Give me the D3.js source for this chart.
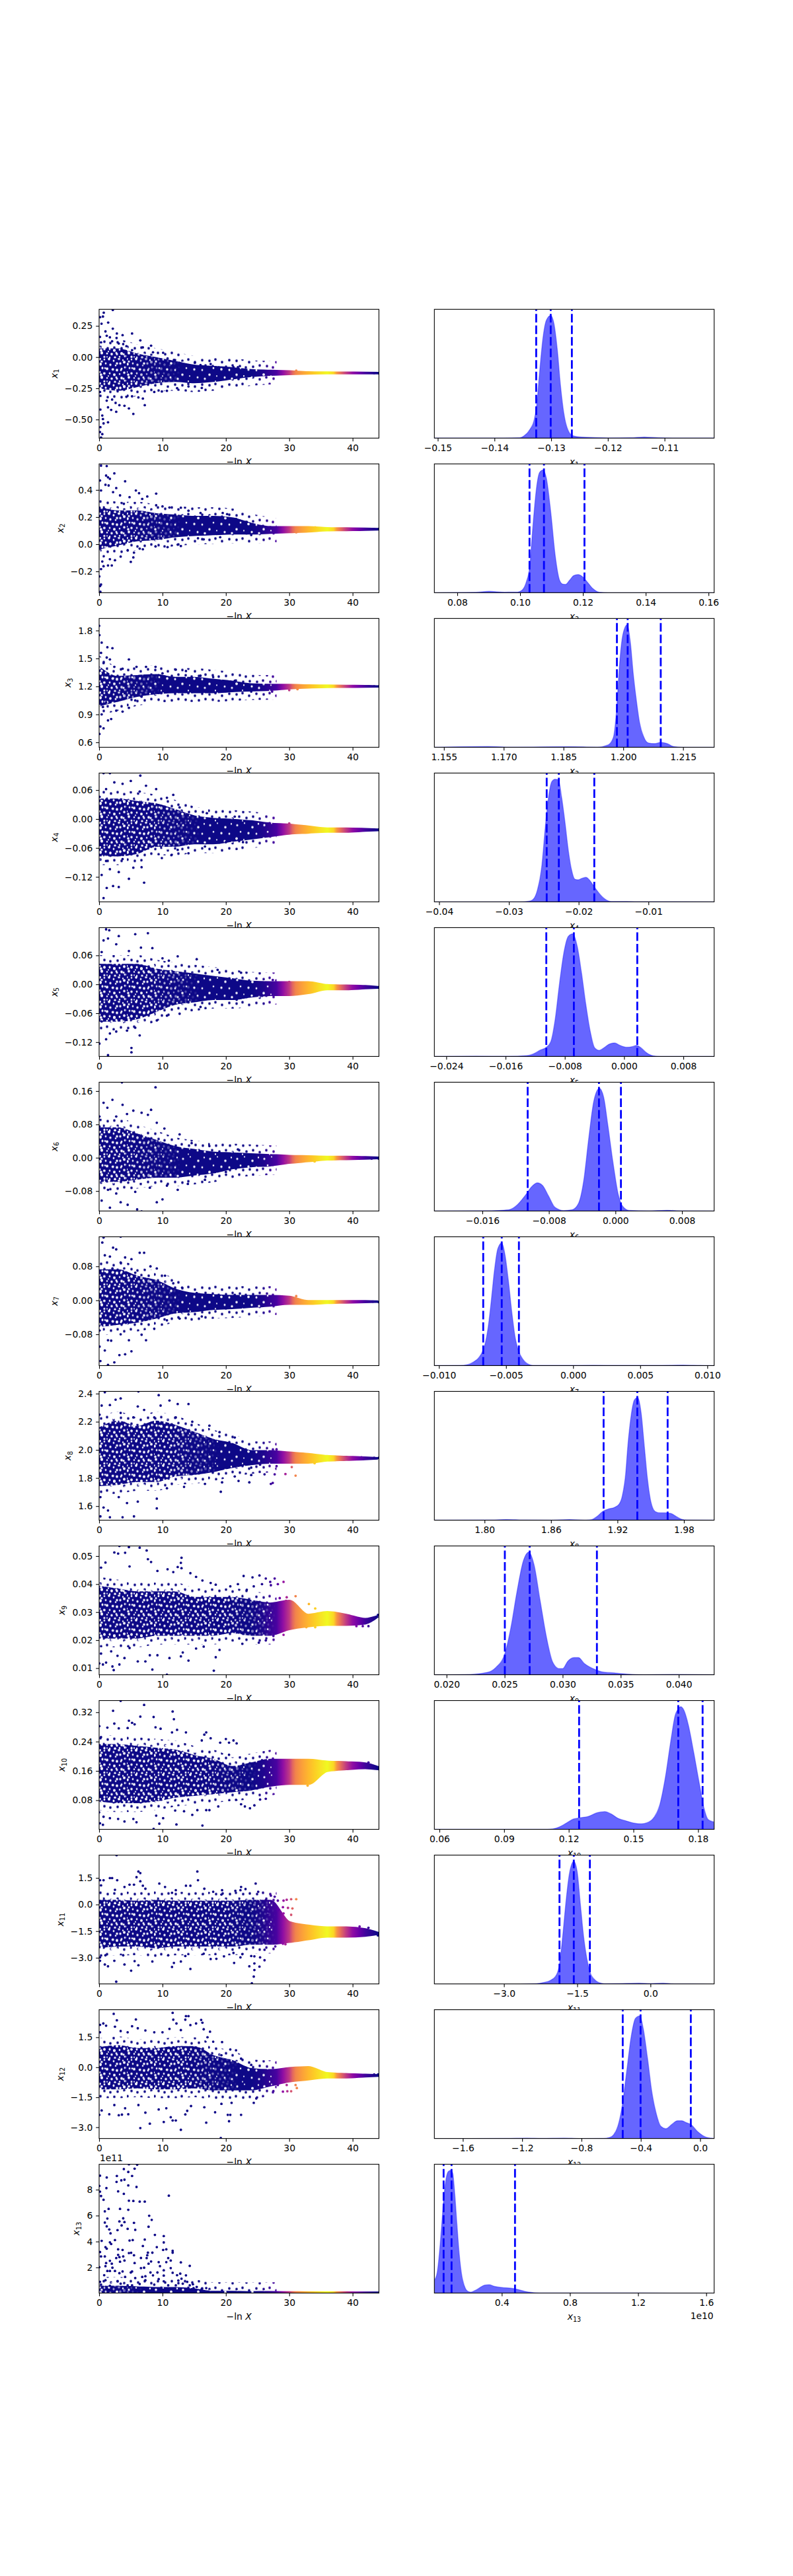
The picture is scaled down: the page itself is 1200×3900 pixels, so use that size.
<!DOCTYPE html>
<html>
<head>
<meta charset="utf-8">
<script src="https://cdn.jsdelivr.net/npm/d3@7"></script>
<style>
html, body { margin: 0; padding: 0; background: #fff; }
text { font-family: "DejaVu Sans", sans-serif; fill: #000; }
</style>
</head>
<body>
<svg id="chart" width="1200" height="3900"></svg>
<script>
// -ln X knots used by the dense core band and the importance weight colours
const coreX = [0, 3, 6, 9, 12, 15, 18, 21, 24, 27, 30, 33, 36, 39, 42, 44];
const weightX = [0, 24, 26, 28, 29, 30, 30.5, 31, 32, 33, 34, 35, 36, 37, 37.5, 38, 39, 40, 41, 42, 44];
const weightV = [0, 0, .03, .12, .3, .45, .6, .7, .78, .84, .9, .95, 1, .92, .75, .65, .45, .3, .2, .1, 0];

const yLimits = [[-.649, .383], [-.357, .592], [.547, 1.929], [-.1718, .0953], [-.1496, .1175], [-.128, .1813],
    [-.1537, .1496], [1.5, 2.416], [.00764, .05362], [.0006, .3519], [-4.474, 2.784], [-3.563, 2.879], [.022, 9.96]];
const yTicks = [[-.5, -.25, 0, .25], [-.2, 0, .2, .4], [.6, .9, 1.2, 1.5, 1.8], [-.12, -.06, 0, .06], [-.12, -.06, 0, .06],
    [-.08, 0, .08, .16], [-.08, 0, .08], [1.6, 1.8, 2, 2.2, 2.4], [.01, .02, .03, .04, .05], [.08, .16, .24, .32],
    [-3, -1.5, 0, 1.5], [-3, -1.5, 0, 1.5], [2, 4, 6, 8]];
const yDecimals = [2, 1, 1, 2, 2, 2, 2, 1, 2, 2, 1, 1, 0];
// how far along -ln X each trace stays thin enough to show white between the dots
const sparseUntil = [12, 12, 9, 15, 15, 12, 12, 18, 27, 24, 27, 21, 6];

const histLimits = [[-.1506, -.10125], [.0727, .1618], [1.1526, 1.2228], [-.04068, -.00058], [-.02561, .01216], [-.02177, .01187],
    [-.01034, .01051], [1.7547, 2.0073], [.01895, .04305], [.05765, .18746], [-4.425, 1.304], [-1.792, .0947], [.0043, 1.6466]];
const histTicks = [[-.15, -.14, -.13, -.12, -.11], [.08, .1, .12, .14, .16], [1.155, 1.17, 1.185, 1.2, 1.215], [-.04, -.03, -.02, -.01],
    [-.024, -.016, -.008, 0, .008], [-.016, -.008, 0, .008], [-.01, -.005, 0, .005, .01], [1.8, 1.86, 1.92, 1.98],
    [.02, .025, .03, .035, .04], [.06, .09, .12, .15, .18], [-3, -1.5, 0], [-1.6, -1.2, -.8, -.4, 0], [.4, .8, 1.2, 1.6]];
const histDecimals = [2, 2, 3, 2, 3, 3, 3, 2, 3, 2, 1, 1, 1];
const quantiles = [[-.13264, -.13008, -.12635], [.103, .1076, .1205], [1.1984, 1.2011, 1.2094], [-.02458, -.02284, -.01776],
    [-.0105, -.00678, .00178], [-.01055, -.00198, .00066], [-.0067, -.00532, -.00404], [1.9075, 1.9379, 1.9653],
    [.02502, .02716, .03295], [.1248, .1708, .1821], [-1.863, -1.57, -1.241], [-.5218, -.4015, -.0628], [.0586, .1052, .4776]];

// dense core band of each trace, at coreX
const coreHi = [
    [.06, .06, .02, -.01, -.04, -.07, -.08, -.09, -.105, -.11, -.115, -.122, -.124, -.125, -.126, -.127],
    [.27, .24, .24, .22, .21, .2, .2, .19, .15, .125, .125, .125, .118, .116, .114, .112],
    [1.4, 1.3, 1.31, 1.32, 1.29, 1.29, 1.27, 1.25, 1.22, 1.215, 1.215, 1.21, 1.208, 1.205, 1.203, 1.2],
    [.04, .04, .035, .03, .018, .005, 0, -.002, -.005, -.01, -.012, -.016, -.02, -.02, -.021, -.022],
    [.04, .04, .04, .03, .025, .02, .015, .01, .005, .004, .004, .004, -.002, -.003, -.004, -.006],
    [.07, .07, .055, .04, .025, .018, .012, .01, .008, .006, .004, .003, .002, .002, .001, 0],
    [.07, .07, .055, .045, .025, .015, .012, .01, .01, .01, .008, -.002, -.002, -.002, -.002, -.003],
    [2.15, 2.2, 2.16, 2.2, 2.17, 2.12, 2.07, 2.04, 1.99, 1.99, 1.98, 1.97, 1.955, 1.95, 1.945, 1.94],
    [.039, .038, .037, .037, .037, .035, .035, .035, .034, .033, .034, .029, .03, .029, .0275, .0285],
    [.23, .23, .225, .22, .215, .2, .19, .17, .18, .19, .19, .19, .185, .183, .18, .17],
    [.2, .2, .15, .2, .15, .15, .15, .15, .2, .2, -1, -1.2, -1.3, -1.3, -1.4, -1.6],
    [.95, 1.05, .9, .9, 1, 1, .55, .3, -.1, -.15, -.05, 0, -.3, -.35, -.38, -.4],
    [.5, .5, .45, .4, .4, .3, .1, .1, .08, .09, .08, .07, .06, .06, .05, .05]
];
const coreLo = [
    [-.24, -.26, -.23, -.2, -.19, -.2, -.19, -.17, -.15, -.14, -.135, -.131, -.129, -.129, -.129, -.128],
    [-.03, 0, .03, .04, .06, .07, .075, .08, .08, .085, .09, .095, .103, .105, .107, .11],
    [1, 1.05, 1.1, 1.13, 1.14, 1.14, 1.14, 1.15, 1.16, 1.165, 1.18, 1.19, 1.195, 1.197, 1.198, 1.2],
    [-.075, -.075, -.07, -.055, -.055, -.05, -.05, -.045, -.04, -.035, -.03, -.028, -.026, -.026, -.024, -.023],
    [-.075, -.075, -.07, -.055, -.04, -.035, -.03, -.03, -.025, -.022, -.022, -.018, -.01, -.01, -.008, -.007],
    [-.055, -.055, -.05, -.045, -.045, -.04, -.035, -.025, -.02, -.018, -.012, -.008, -.004, -.003, -.002, -.001],
    [-.06, -.055, -.05, -.04, -.028, -.025, -.02, -.018, -.015, -.012, -.008, -.008, -.006, -.005, -.004, -.003],
    [1.75, 1.76, 1.78, 1.78, 1.82, 1.83, 1.85, 1.88, 1.9, 1.91, 1.91, 1.91, 1.925, 1.93, 1.935, 1.94],
    [.021, .021, .021, .022, .022, .022, .022, .023, .022, .022, .024, .025, .0255, .0255, .026, .0285],
    [.08, .075, .075, .08, .09, .095, .1, .105, .11, .12, .125, .125, .16, .165, .168, .165],
    [-2.4, -2.3, -2.3, -2.4, -2.3, -2.3, -2.3, -2.3, -2.2, -2.2, -2.1, -1.95, -1.8, -1.8, -1.75, -1.65],
    [-1.05, -1.05, -1, -1.05, -1.05, -1, -1.1, -1.1, -1.1, -.9, -.7, -.6, -.5, -.5, -.45, -.42],
    [.03, .03, .03, .03, .03, .03, .03, .03, .03, .03, .03, .03, .03, .03, .03, .03]
];

// single points: [-ln X, value]
const pts1 = [[2.16,.378],[.73,.356],[.14,.32],[.6,.325],[1.43,.277],[.38,.268],[2.16,.228],[5.2,.189],[2.8,.189],[3.7,.176],[1,.206],[.14,.162],[1.2,.171],[1.7,.159],[2.75,.153],[6.5,.134],[.3,.118],[2.05,.127],[3.1,.109],[3.8,.104],[4.3,.088],[6.9,.078],[8.2,.092],[5.2,.056],[10.1,.035],[8.5,.039],[10.8,-.011],[11.8,-.023],[12.7,-.046],[15.1,-.046],[16,-.064],[17.6,-.055],[18.4,-.081],[21.2,-.081],[21.9,-.081],[31.1,-.108],[44.1,-.128],[43.4,-.128],[22,-.176],[16.2,-.247],[14.1,-.235],[12.3,-.249],[10.7,-.27],[9.9,-.275],[8.7,-.279],[7.2,-.385],[6.9,-.332],[6.2,-.323],[5.4,-.455],[4.7,-.411],[4,-.39],[3.2,-.385],[2.7,-.438],[1.9,-.423],[1.4,-.522],[.7,-.531],[.6,-.496],[.5,-.468],[.2,-.42],[.2,-.561],[.14,-.6],[.5,-.617],[.3,-.644],[1.4,-.402],[1.2,-.349],[2.05,-.34],[2.6,-.367],[5.2,-.314],[4.3,-.318],[.14,-.279]];
const pts2 = [[.3,.579],[1.2,.576],[2.4,.522],[1.1,.506],[.14,.47],[1.4,.493],[4.1,.464],[1.7,.482],[1,.438],[1.5,.433],[2.7,.414],[.3,.396],[5.8,.396],[9,.373],[6.3,.376],[2.2,.384],[3.3,.36],[4.8,.347],[7.6,.352],[6.8,.334],[3.9,.298],[9,.287],[10,.279],[11.1,.271],[12.9,.269],[14.1,.247],[16,.23],[19.5,.23],[20.2,.222],[21.6,.187],[23.3,.165],[34.1,.125],[44.1,.112],[43.4,.112],[12.9,-.013],[12.4,-.003],[10.8,-.021],[8.9,-.016],[6.9,-.037],[6.4,-.032],[5.5,-.062],[4.5,-.045],[5.4,-.097],[5,-.13],[3.4,-.091],[2.5,-.118],[2,-.156],[1.4,-.156],[.7,-.162],[.3,-.183],[.03,-.237],[.3,-.297],[.14,-.308],[.2,-.35],[.5,-.127],[1.7,-.11],[15.6,.044],[16.5,.036],[19.1,.052],[24,.068],[31.1,.088]];
const pts3 = [[0,1.85],[.05,1.75],[.4,1.67],[1.3,1.62],[2.1,1.61],[.3,1.56],[1.2,1.51],[1.7,1.49],[4.7,1.49],[.7,1.45],[2.4,1.41],[5.9,1.41],[7.4,1.41],[8.9,1.41],[3.7,1.39],[10,1.34],[12.1,1.38],[13.7,1.365],[16,1.315],[18,1.3],[21.4,1.26],[31.3,1.17],[44.1,1.2],[43.4,1.2],[.05,.69],[.2,.77],[.7,.75],[1.4,.835],[1.9,.85],[.4,.9],[2.7,.94],[3.7,.93],[4.7,.97],[5.7,1.05],[6.7,1.09],[27.3,1.145],[30,1.16],[.6,.98],[1.1,1.03],[9.4,1.13],[14.7,1.14],[20,1.15],[24,1.145]];
const pts4 = [[.7,.095],[1.7,.095],[6.5,.09],[5,.079],[2.4,.076],[3.7,.073],[7.4,.069],[9,.062],[11.7,.05],[1.1,.062],[6.4,.057],[10.7,.044],[12.7,.024],[17,.012],[21.4,.005],[.07,.046],[30,-.009],[.7,-.164],[2.2,-.139],[3.1,-.141],[1.2,-.143],[7.1,-.132],[4.7,-.124],[.4,-.116],[3.1,-.11],[1.7,-.104],[5.4,-.101],[6.7,-.1],[9.9,-.081],[12.4,-.064],[14.1,-.071],[16.7,-.057],[20,-.048],[22.7,-.048],[11.4,-.075],[1.1,-.087],[3.7,-.083],[.07,-.054],[44.1,-.022],[43.4,-.022]];
const pts5 = [[1.1,.114],[1.6,.112],[5.7,.104],[7.7,.106],[3.1,.1],[.7,.091],[1.4,.095],[2.7,.083],[4.7,.069],[6.6,.076],[8.4,.075],[12.4,.058],[10,.054],[15.4,.052],[11,.049],[18.7,.03],[22.4,.024],[.4,.067],[27.4,.009],[30,.005],[.05,-.123],[1.4,-.147],[5.1,-.132],[5.1,-.141],[6.4,-.106],[.4,-.077],[1.7,-.102],[2.7,-.098],[4.4,-.096],[5.7,-.09],[1.1,-.114],[9.1,-.075],[10.7,-.065],[12.7,-.061],[16,-.047],[21.7,-.032],[25.7,-.024],[29.4,-.02],[34.1,-.014],[44.1,-.006],[43,-.006]];
const pts6 = [[3.6,.181],[8.9,.169],[2.1,.139],[3.7,.127],[.7,.132],[1.3,.12],[8.2,.115],[5.4,.113],[4.4,.105],[6.7,.108],[7.7,.103],[.05,.099],[2.7,.099],[9.1,.084],[10.3,.07],[12.7,.056],[14.6,.035],[17.4,.028],[21.9,.02],[.05,.075],[6.7,-.129],[6,-.124],[1.7,-.12],[.4,-.103],[3.4,-.107],[4.5,-.113],[9.1,-.107],[10,-.1],[1.4,-.077],[2.7,-.086],[5.7,-.082],[8,-.072],[10.7,-.067],[12.4,-.077],[14,-.063],[16.7,-.053],[20,-.034],[22.7,-.022],[29.4,-.01],[44.1,-.002],[43,-.002],[34,-.009]];
const pts7 = [[.7,.148],[3.4,.15],[.5,.136],[2.2,.124],[2.7,.12],[.9,.106],[1.7,.103],[4.1,.101],[5.1,.097],[6.4,.112],[7.1,.112],[3.4,.089],[8.1,.08],[9.1,.075],[10.4,.058],[11.7,.04],[13.1,.03],[15.4,.017],[21.4,.013],[27.4,.01],[31.1,.01],[.07,.044],[2.1,.075],[5.7,.065],[.07,-.109],[.2,-.143],[1.4,-.152],[2.4,-.146],[3.2,-.129],[4.1,-.127],[5.1,-.12],[.9,-.118],[1.9,-.095],[1.4,-.094],[4.7,-.094],[7.4,-.094],[3.4,-.08],[6.7,-.081],[8.7,-.067],[10.7,-.047],[12.7,-.043],[14.1,-.033],[16.2,-.038],[20,-.019],[.07,-.071],[44.1,-.004],[43.2,-.003]];
const pts8 = [[.9,2.41],[6.2,2.416],[9.4,2.389],[3.4,2.366],[2.6,2.357],[11.1,2.351],[12.4,2.326],[14.1,2.326],[.4,2.315],[1.7,2.319],[6.1,2.309],[9.7,2.315],[3.4,2.263],[7.1,2.284],[8.7,2.231],[14.7,2.2],[17.4,2.172],[19,2.126],[21.4,2.088],[28,2.004],[.07,2.25],[5.4,2.231],[12.1,2.231],[.2,1.527],[1.7,1.521],[3.7,1.521],[5.5,1.527],[.7,1.59],[1.4,1.569],[9.1,1.584],[6.1,1.632],[4.4,1.622],[9.1,1.653],[3.1,1.664],[.2,1.664],[10.7,1.727],[13.4,1.737],[19.2,1.702],[19.4,1.769],[16.7,1.758],[22,1.779],[23.7,1.769],[27.4,1.765],[27.1,1.758],[31,1.817],[29.4,1.828],[27.7,1.826],[26.1,1.826],[24,1.821],[21.4,1.811],[30.4,1.878],[28,1.884],[25.4,1.895],[34,1.905],[44.1,1.943],[43.4,1.943],[41.4,1.947],[20,1.874],[24,1.874]];
const pts9 = [[3.2,.0536],[4.7,.0532],[6.4,.053],[7.5,.052],[2.4,.0513],[4.1,.0512],[3,.0509],[7.7,.0489],[8.2,.0479],[13,.0494],[12.9,.0476],[.3,.0459],[1,.0477],[4.8,.0463],[12.4,.0461],[13,.0457],[10.8,.0453],[9.2,.0447],[14.4,.0439],[11.7,.0443],[15.3,.0426],[16.3,.0413],[17.6,.0404],[18.4,.0398],[20.7,.0392],[22.8,.0429],[21.9,.04],[24.2,.0424],[25.3,.0431],[26.3,.042],[27,.0408],[27.7,.042],[28.2,.04],[29.1,.0408],[27.1,.0396],[25.7,.04],[24.4,.0392],[23.3,.038],[31,.0357],[29.6,.0353],[28.5,.035],[29.5,.034],[33.1,.0329],[34.1,.0313],[44,.029],[43.4,.028],[42.5,.025],[41.6,.025],[40.6,.025],[32.7,.0246],[34.1,.0246],[31,.025],[.03,.0117],[.6,.0113],[1.1,.012],[2.3,.0093],[3.2,.0113],[2.1,.0106],[6.1,.0124],[7.3,.0124],[8.4,.0095],[10.7,.0077],[14.1,.0127],[18.1,.0091],[18.4,.0139],[11.1,.0136],[12.9,.0142],[13.2,.0156],[8,.0146],[9.2,.0146],[4,.0136],[.3,.0152],[1.9,.016],[2.9,.0144],[4.8,.0172],[15.3,.017],[16.5,.0177],[19,.0165],[22.6,.0187],[25.2,.0191],[26.3,.0199],[27.5,.0215],[29.1,.0219]];
const pts10 = [[3.4,.351],[7.1,.34],[2.2,.324],[11.6,.322],[11.8,.301],[8.6,.307],[6.5,.308],[4.7,.297],[2.4,.289],[5.2,.291],[5.6,.287],[.03,.282],[1.3,.278],[3.1,.276],[4.5,.277],[8.9,.279],[9.7,.275],[16.9,.265],[16.6,.259],[11.5,.265],[12.3,.272],[13.7,.265],[17.6,.249],[20,.247],[21.2,.243],[21.7,.235],[16.2,.243],[.3,.252],[19.1,.237],[20.5,.237],[20.5,.204],[25.7,.189],[29.6,.187],[42.5,.183],[44.1,.167],[43.4,.17],[34.1,.147],[32.9,.12],[.14,.017],[.6,.013],[8.6,.002],[9.5,.016],[12.2,.014],[16.3,.011],[3,.029],[4,.022],[5.9,.02],[5.4,.029],[9,.038],[10.1,.031],[1.7,.031],[.7,.035],[0,.047],[12,.052],[14.7,.04],[15.5,.053],[16.9,.053],[17.4,.053],[13.4,.05],[18.8,.063],[22.4,.069],[23,.063],[23.8,.058],[24.5,.066],[26.3,.084],[25.4,.082],[21.6,.081]];
const pts11 = [[2.75,2.78],[6.2,1.86],[6.5,1.77],[15.5,1.86],[15.6,1.37],[5.9,1.54],[.14,1.37],[.7,1.37],[2.85,1.37],[1.7,1.49],[2.05,1.49],[6.5,1.31],[9.5,1.18],[24.7,1.18],[.3,1.08],[4.8,1.12],[5.5,1.12],[6.9,1.06],[7.3,.89],[10.4,.99],[13.7,1.06],[14.4,1.06],[22.4,.99],[23.1,.87],[22.3,.81],[19.4,.81],[16.6,.89],[18,.72],[11.5,.66],[12.1,.81],[4,.99],[2.5,.83],[21.5,.77],[25.1,.72],[19.3,.56],[27.1,.5],[27.7,.44],[31.1,.3],[30.3,.3],[29.6,.27],[29.1,.22],[29.8,-.19],[30.5,-.22],[30.3,-.58],[29.1,-.5],[28.2,-.31],[27.8,-.5],[27.1,-.31],[26.3,.25],[25.1,.19],[29,-.15],[28.2,.22],[26.6,-.56],[42.5,-1.31],[41.1,-1.24],[44,-1.74],[43.4,-1.62],[43,-1.55],[29.4,-2.24],[29,-2.21],[27.8,-2.36],[26.1,-3.14],[25.4,-2.98],[24.5,-2.92],[24,-2.9],[23.7,-3.48],[25.3,-3.5],[24.5,-3.32],[24.5,-3.69],[24.4,-4.06],[24.1,-4.44],[2.7,-4.35],[5.05,-3.73],[14.4,-3.63],[11.5,-3.52],[6.2,-3.42],[4,-3.38],[1.4,-3.48],[.9,-3.38],[.14,-3.17],[.14,-2.98],[2.4,-3.17],[5.6,-3.19],[8.4,-3.21],[11.8,-3.29],[12.9,-3.21],[17.6,-3.07],[18.5,-3.06],[19.7,-2.92],[21.3,-3.29],[22.3,-2.98],[22.6,-2.8],[13.6,-2.9],[16.5,-2.77],[10.9,-2.86],[3.8,-2.86],[1,-2.86],[21.2,-2.73],[26.1,-2.55]];
const pts12 = [[2.3,2.67],[11.6,2.72],[5.8,2.39],[2.8,2.35],[11.7,2.38],[13.7,2.56],[14.1,2.56],[13.6,2.38],[16.1,2.37],[12.2,2.19],[16.3,2.23],[15.3,2.19],[.66,2.19],[.14,2.12],[1.1,2.08],[5.2,2.05],[2.5,2.03],[14.4,2.11],[16.5,1.9],[17.5,1.78],[.14,1.75],[3.4,1.81],[4.5,1.75],[6.1,1.95],[7.3,1.84],[8.7,1.75],[10,1.75],[11.1,1.92],[12.9,1.86],[17.1,1.5],[19.4,1.26],[18,1.28],[20.7,.89],[21.6,.85],[19.3,.6],[22.4,.43],[24,.12],[.03,-2.38],[.4,-2.16],[1.6,-2.35],[3.1,-2.4],[3.6,-2.37],[4.6,-2.35],[6.5,-3.04],[8,-2.82],[10.2,-2.74],[11.3,-2.5],[11.6,-2.66],[12.1,-2.66],[12.9,-3.13],[13.6,-2.36],[13.9,-2.18],[16.9,-2.77],[18.3,-2.25],[19.2,-3.54],[20.3,-2.38],[20.7,-2.38],[20.5,-2.7],[22.4,-2.38],[7.3,-2.27],[9.4,-2.11],[10.6,-2.05],[14.5,-1.94],[16.6,-2],[19.3,-1.83],[20.9,-1.78],[24.4,-1.78],[24.8,-1.56],[6.2,-1.89],[4.1,-2.05],[2.4,-1.89],[31.2,-1.04],[30.3,-1.2],[29.6,-.89],[29,-1.22],[28.2,-.89],[27.5,-1.19],[31,-.89],[29.7,-1.2],[44,-.36],[43.4,-.36]];
const pts13 = [[.14,9.08],[1.2,8.94],[2.8,9.06],[4.7,9.96],[6,9.93],[3.9,9.59],[5.6,9.62],[4.6,9.37],[5.2,9.06],[3.5,8.72],[4,8.77],[2.75,8.6],[4.6,8.33],[5.9,8.21],[.03,8.29],[1.15,8.12],[.14,7.85],[3,7.87],[3.9,7.68],[.3,7.51],[11,7.54],[.7,7.22],[4.7,7.15],[5.4,7.13],[6.4,7.08],[7.2,7.08],[3.3,6.52],[1.5,6.52],[4.6,6.45],[.9,6.33],[7.9,5.99],[1.3,5.77],[3.8,5.79],[8.3,5.67],[3.2,5.55],[4,5.5],[.9,5.46],[5.5,5.44],[3.55,5.24],[1.2,5.17],[7.8,5.14],[1.6,4.93],[4.5,4.98],[2.9,4.88],[5.7,4.9],[1.8,4.63],[8.8,4.51],[10.2,4.42],[2.5,4.11],[.4,4.05],[5.3,4.11],[4.8,4.08],[7.2,4.15],[10.2,3.93],[1.7,3.94],[1.9,3.81],[6.9,3.65],[9.1,3.57],[1,3.57],[1.2,3.45],[3,3.4],[10.1,3.35],[10.6,3.4],[3.7,3.35],[11.6,3.28],[11.6,3.14],[.14,3.19],[7.7,3.14],[8.4,3.14],[4.7,3.11],[5.05,3.13],[5.5,2.94],[7.6,2.94],[3,2.97],[.3,2.85],[.9,2.85],[3.8,2.85],[3.2,2.8],[10.9,2.72],[6.6,2.73],[2.7,2.72],[7.5,2.72],[11.3,2.53],[1.7,2.51],[4,2.53],[12.9,2.39],[9.4,2.41],[10.6,2.41],[3.3,2.44],[8.2,2.46],[5.6,2.34],[1.1,2.34],[7.8,2.29],[2,2.29],[14.3,2.12],[9.6,2.1],[1,2.1],[6.6,1.95],[7.1,1.98],[11.3,1.95],[2.1,1.98],[.03,2.02],[10.2,1.78],[3.7,1.69],[1.3,1.73],[1.7,1.73],[5.2,1.69],[8.1,1.61],[9.2,1.61],[11.6,1.59],[12.8,1.52],[3.2,1.56],[2.5,1.73],[5,1.61],[.8,1.4],[8.5,1.39],[10.2,1.37],[12.3,1.4],[13.7,1.39],[7.3,1.32],[6.8,1.27],[4.1,1.27],[5.7,1.18],[13,1.13],[9.4,1.1],[12.5,.99],[1,1.01],[2.9,.93],[7.3,1.01],[10.2,.93],[13.9,.89],[13.2,.75],[14.8,.7],[14.3,.62],[12.1,.62],[15.4,.5],[16.9,.41],[16.2,.35],[14.9,.41],[10.9,.62],[8.7,.67],[5.2,.62],[1.7,.58],[.14,.89],[3.4,.75],[4.5,.62],[6.4,.72],[.3,.67]];
const tracePoints = [pts1, pts2, pts3, pts4, pts5, pts6, pts7, pts8, pts9, pts10, pts11, pts12, pts13];

// marginal posteriors: value and height relative to the peak
const densX1 = [-.1506, -.13941, -.13552, -.13474, -.13377, -.13299, -.1326, -.13202, -.13144, -.13086, -.13008, -.12949, -.12891, -.12833, -.12775, -.12697, -.12619, -.12464, -.11997, -.11608, -.11356, -.11103, -.10637, -.10125];
const densY1 = [0, 0, .003, .02, .07, .15, .25, .55, .82, .96, 1, .93, .72, .42, .2, .06, .02, .008, .002, .003, .009, .003, 0, 0];
const densX2 = [.0727, .0859, .0901, .095, .0992, .1006, .102, .1031, .1041, .1052, .1062, .1073, .1084, .1098, .1112, .1126, .1136, .1145, .1157, .1171, .1185, .1199, .1213, .1231, .1252, .128, .1618];
const densY2 = [0, .003, .011, .004, .005, .02, .09, .22, .55, .85, .98, 1, .93, .65, .3, .1, .07, .068, .1, .14, .148, .13, .09, .035, .004, 0, 0];
const densX3 = [1.1526, 1.166, 1.1723, 1.1861, 1.1935, 1.1962, 1.1975, 1.1983, 1.199, 1.1999, 1.201, 1.2018, 1.2025, 1.2033, 1.2041, 1.2052, 1.2063, 1.2078, 1.2094, 1.211, 1.2126, 1.2147, 1.2228];
const densY3 = [0, .006, .001, .005, .001, .02, .08, .3, .65, .92, 1, .85, .6, .38, .2, .08, .035, .03, .04, .03, .006, 0, 0];
const densX4 = [-.04068, -.02843, -.02717, -.02654, -.0259, -.02527, -.0248, -.02433, -.02385, -.02338, -.0229, -.02243, -.02196, -.02148, -.02101, -.02054, -.02006, -.01959, -.01896, -.01848, -.01785, -.01706, -.01627, -.01533, -.01312, -.0117, -.00058];
const densY4 = [0, 0, .005, .02, .1, .3, .6, .85, .98, 1, .995, .85, .65, .42, .26, .185, .18, .19, .2, .18, .13, .07, .025, .003, .003, .001, 0];
const densX5 = [-.02561, -.02001, -.01555, -.01317, -.01228, -.01139, -.0105, -.0099, -.00931, -.00871, -.00812, -.00752, -.00693, -.00633, -.00574, -.00515, -.00455, -.00396, -.00336, -.00262, -.00202, -.00128, -.00054, .00036, .0011, .0017, .00229, .00303, .00393, .00497, .01216];
const densY5 = [0, .002, .001, .006, .02, .05, .075, .12, .3, .6, .85, .98, 1, .9, .68, .42, .2, .07, .05, .075, .1, .11, .09, .075, .08, .09, .07, .03, .005, 0, 0];
const densX6 = [-.02177, -.01487, -.01284, -.01182, -.01081, -.01005, -.00939, -.00878, -.00802, -.00726, -.00624, -.00523, -.00446, -.00381, -.0032, -.00259, -.00193, -.00142, -.00091, -.0003, .00036, .00086, .00162, .00391, .00619, .00797, .01187];
const densY6 = [0, .003, .01, .05, .13, .2, .23, .21, .12, .03, .004, .01, .06, .25, .6, .9, 1, .93, .7, .4, .13, .04, .005, .001, .006, .001, 0];
const densX7 = [-.01034, -.00841, -.00791, -.00742, -.00693, -.0066, -.00635, -.00611, -.00586, -.00562, -.00532, -.00507, -.00483, -.00455, -.0043, -.00406, -.00373, -.0034, -.00299, -.00069, .00161, .00342, .00621, .00818, .00949, .01051];
const densY7 = [0, .002, .007, .03, .08, .16, .3, .52, .78, .95, 1, .9, .7, .42, .22, .12, .05, .015, .002, .001, .003, .001, .001, .004, .001, 0];
const densX8 = [1.7547, 1.804, 1.82, 1.8359, 1.8597, 1.8766, 1.8916, 1.8965, 1.9015, 1.9065, 1.9114, 1.9174, 1.9214, 1.9244, 1.9274, 1.9293, 1.9323, 1.9353, 1.9383, 1.9413, 1.9443, 1.9472, 1.9502, 1.9542, 1.9582, 1.9632, 1.9681, 1.9731, 1.9781, 1.983, 2.0073];
const densY8 = [0, .001, .005, .001, 0, .005, 0, .004, .03, .07, .09, .105, .13, .2, .38, .6, .85, .98, 1, .88, .6, .33, .15, .07, .06, .06, .055, .03, .007, .001, 0];
const densX9 = [.01895, .02207, .02353, .02425, .02498, .02553, .02607, .02662, .02709, .02753, .02807, .02862, .02916, .02971, .03, .03044, .03098, .03135, .03189, .03262, .03335, .03444, .03553, .03698, .03953, .04305];
const densY9 = [0, .003, .02, .06, .16, .38, .68, .93, 1, .9, .6, .3, .1, .05, .05, .11, .14, .14, .09, .05, .025, .015, .006, .001, .003, 0];
const densX10 = [.05765, .10753, .11264, .11571, .11877, .12235, .12542, .129, .13308, .13666, .13973, .14279, .14637, .15046, .15353, .15711, .15966, .16222, .16477, .16733, .16937, .1707, .17193, .17346, .1755, .17806, .18062, .18266, .1847, .18746];
const densY10 = [0, 0, .004, .02, .05, .085, .095, .105, .135, .145, .125, .09, .07, .05, .045, .06, .1, .2, .42, .72, .93, .98, 1, .97, .85, .62, .37, .18, .08, .06];
const densX11 = [-4.425, -2.675, -2.359, -2.179, -2.044, -1.931, -1.863, -1.795, -1.728, -1.66, -1.57, -1.502, -1.435, -1.367, -1.299, -1.232, -1.141, -1.051, -.938, -.645, -.239, -.014, .257, .483, 1.304];
const densY11 = [0, 0, .002, .012, .03, .07, .16, .4, .68, .9, 1, .92, .65, .38, .2, .09, .035, .01, .002, .003, .006, .003, .006, .001, 0];
const densX12 = [-1.792, -1.305, -1.171, -1.067, -.918, -.815, -.651, -.614, -.584, -.555, -.525, -.495, -.465, -.436, -.406, -.384, -.354, -.324, -.295, -.265, -.231, -.191, -.153, -.124, -.094, -.057, -.02, .017, .055, .095];
const densY12 = [0, .001, .004, .001, .004, 0, .001, .007, .03, .1, .27, .55, .83, .98, 1, .9, .65, .37, .2, .1, .08, .115, .145, .145, .13, .11, .06, .025, .006, .001];
const densX13 = [.0043, .0211, .034, .047, .0599, .0728, .0858, .0987, .1116, .1246, .1375, .1504, .1634, .1802, .1983, .219, .2409, .2668, .2991, .325, .3573, .4026, .4543, .4931, .5319, .5707, .6224, .7647, 1.6466];
const densY13 = [.105, .17, .33, .55, .78, .93, .99, 1, .98, .8, .55, .32, .16, .06, .017, .008, .02, .04, .065, .068, .055, .045, .04, .03, .015, .006, .001, .001, 0];
const densX = [densX1, densX2, densX3, densX4, densX5, densX6, densX7, densX8, densX9, densX10, densX11, densX12, densX13];
const densY = [densY1, densY2, densY3, densY4, densY5, densY6, densY7, densY8, densY9, densY10, densY11, densY12, densY13];

const leftX = 150, rightX = 657.3, panelW = 423.4, panelH = 195, firstTop = 468.3, rowStep = 234.03;
const tickLen = 4.86, fontPx = 13.89;

let svg = d3.select('#chart');
let defs = svg.append('defs');
let traceX = d3.scaleLinear().domain([0, 44.15]).range([0, panelW]);
let weightScale = d3.scaleLinear().domain(weightX).range(weightV);

defs.append('clipPath').attr('id', 'panel-clip')
    .append('rect').attr('width', panelW).attr('height', panelH);
defs.append('clipPath').attr('id', 'fringe-clip')
    .append('rect').attr('width', traceX(28)).attr('height', panelH);

let grad = defs.append('linearGradient').attr('id', 'weight-grad')
    .attr('gradientUnits', 'userSpaceOnUse')
    .attr('x1', 0).attr('x2', panelW).attr('y1', 0).attr('y2', 0);
weightX.forEach(function (k, i) {
    grad.append('stop')
        .attr('offset', traceX(k) / panelW)
        .attr('stop-color', d3.interpolatePlasma(weightV[i]));
});

function make_pattern(id, blobs) {
    let p = defs.append('pattern').attr('id', id)
        .attr('patternUnits', 'userSpaceOnUse').attr('width', 41).attr('height', 37);
    blobs.forEach(function (d) {
        p.append('circle').attr('cx', d[0]).attr('cy', d[1]).attr('r', d[2]).attr('fill', '#fff');
    });
}

// white gaps between the dots in the crowded part of a trace
make_pattern('gaps-few', [[4, 5, 1.6], [15, 2, 1.1], [27, 8, 1.8], [36, 3, 1.2], [9, 15, 1.3], [21, 17, 1.7], [33, 18, 1.4],
    [3, 25, 1.8], [14, 27, 1.1], [26, 29, 1.5], [37, 31, 1.6], [12, 35, 1]]);
make_pattern('gaps-many', [[1, 1, 1.7], [8, 2, 1.3], [15, 1, 1.9], [22, 4, 1.4], [30, 1, 1.8], [38, 6, 2],
    [2, 9, 1.9], [10, 8, 1.4], [17, 10, 1.7], [25, 11, 1.3], [32, 8, 1.7], [39, 14, 1.4],
    [5, 15, 1.4], [12, 16, 2], [20, 17, 1.3], [27, 18, 1.9], [34, 16, 1.5],
    [1, 21, 1.3], [8, 23, 1.8], [16, 23, 1.4], [23, 25, 2], [31, 24, 1.3], [38, 22, 1.8],
    [4, 29, 1.9], [12, 30, 1.3], [19, 31, 1.8], [27, 31, 1.5], [34, 30, 1.9],
    [8, 35, 1.5], [16, 36, 1.3], [24, 36, 1.7], [31, 35, 1.3], [39, 34, 1.5]]);
// loose dots just outside the band edge, used through a mask
make_pattern('fringe-dots', [[3, 4, 1.9], [12, 2, 1.9], [22, 6, 1.9], [33, 3, 1.9], [8, 12, 1.9], [17, 14, 1.9], [28, 13, 1.9], [38, 11, 1.9],
    [2, 20, 1.9], [13, 22, 1.9], [23, 21, 1.9], [34, 22, 1.9], [7, 29, 1.9], [18, 31, 1.9], [28, 29, 1.9], [38, 32, 1.9]]);
defs.append('mask').attr('id', 'fringe-mask')
    .attr('maskUnits', 'userSpaceOnUse')
    .attr('x', 0).attr('y', 0).attr('width', panelW).attr('height', panelH)
    .append('rect').attr('width', panelW).attr('height', panelH).attr('fill', 'url(#fringe-dots)');

// the many gaps thin out gradually, ending at sparseUntil of that row
sparseUntil.forEach(function (end, row) {
    let fade = defs.append('linearGradient').attr('id', 'gaps-fade-' + row)
        .attr('gradientUnits', 'userSpaceOnUse')
        .attr('x1', traceX(end - 7)).attr('x2', traceX(end + 1)).attr('y1', 0).attr('y2', 0);
    fade.append('stop').attr('offset', 0).attr('stop-color', '#fff');
    fade.append('stop').attr('offset', 1).attr('stop-color', '#000');
    defs.append('mask').attr('id', 'gaps-mask-' + row)
        .attr('maskUnits', 'userSpaceOnUse')
        .attr('x', -10).attr('y', -10).attr('width', panelW + 20).attr('height', panelH + 20)
        .append('rect').attr('x', -10).attr('y', -10).attr('width', panelW + 20).attr('height', panelH + 20)
        .attr('fill', 'url(#gaps-fade-' + row + ')');
});

function spine(g) {
    g.append('rect')
        .attr('width', panelW).attr('height', panelH)
        .attr('fill', 'none').attr('stroke', '#000').attr('stroke-width', 1.1);
}

function style_axis(axis_g) {
    axis_g.select('.domain').remove();
    axis_g.selectAll('line').attr('stroke', '#000').attr('stroke-width', 1.1);
    axis_g.selectAll('text').attr('font-size', fontPx).attr('font-family', '"DejaVu Sans", sans-serif');
}

function sub_label(parent, index) {
    let t = parent.append('text').attr('font-size', fontPx);
    t.append('tspan').attr('font-style', 'italic').text('x');
    t.append('tspan').attr('font-size', fontPx * 0.7).attr('dy', 2.6).text(index);
    return t;
}

function draw_trace(row) {
    let g = svg.append('g').attr('transform', 'translate(' + leftX + ',' + (firstTop + row * rowStep) + ')');
    g.append('rect').attr('width', panelW).attr('height', panelH).attr('fill', '#fff');

    let y = d3.scaleLinear().domain(yLimits[row]).range([panelH, 0]);
    let band = d3.area()
        .x(function (d) { return traceX(d[0]); })
        .y0(function (d) { return y(d[1]); })
        .y1(function (d) { return y(d[2]); })
        .curve(d3.curveMonotoneX);
    let bandData = coreX.map(function (k, i) { return [k, coreLo[row][i], coreHi[row][i]]; });
    let crowdedData = bandData.filter(function (d) { return d[0] <= 27; });

    let body = g.append('g').attr('clip-path', 'url(#panel-clip)');
    body.append('g').attr('clip-path', 'url(#fringe-clip)')
        .append('g').attr('mask', 'url(#fringe-mask)')
        .append('path').attr('d', band(crowdedData))
        .attr('fill', 'none').attr('stroke', 'url(#weight-grad)').attr('stroke-width', 30);
    body.append('path').attr('d', band(bandData))
        .attr('fill', 'url(#weight-grad)').attr('stroke', 'url(#weight-grad)').attr('stroke-width', 3.6);
    body.append('path').attr('d', band(crowdedData))
        .attr('fill', 'url(#gaps-few)').attr('stroke', 'url(#gaps-few)').attr('stroke-width', 6);
    body.append('g').attr('mask', 'url(#gaps-mask-' + row + ')')
        .append('path').attr('d', band(crowdedData))
        .attr('fill', 'url(#gaps-many)').attr('stroke', 'url(#gaps-many)').attr('stroke-width', 14);
    body.selectAll('circle').data(tracePoints[row]).enter().append('circle')
        .attr('cx', function (d) { return traceX(d[0]); })
        .attr('cy', function (d) { return y(d[1]); })
        .attr('r', 1.9)
        .attr('fill', function (d) { return d3.interpolatePlasma(weightScale(d[0])); });

    let xAxis = g.append('g').attr('transform', 'translate(0,' + panelH + ')')
        .call(d3.axisBottom(traceX).tickValues([0, 10, 20, 30, 40]).tickFormat(d3.format('d')).tickSize(tickLen).tickPadding(tickLen));
    style_axis(xAxis);
    let yAxis = g.append('g')
        .call(d3.axisLeft(y).tickValues(yTicks[row]).tickFormat(d3.format('.' + yDecimals[row] + 'f')).tickSize(tickLen).tickPadding(tickLen));
    style_axis(yAxis);
    spine(g);

    // -ln X label, the next panel hides its lower part
    let xl = g.append('text').attr('font-size', fontPx)
        .attr('text-anchor', 'middle')
        .attr('x', panelW / 2).attr('y', panelH + 40.7);
    xl.append('tspan').text('\u2212ln ');
    xl.append('tspan').attr('font-style', 'italic').text('X');

    let labelX = yAxis.node().getBBox().x - 11;
    sub_label(g, row + 1)
        .attr('text-anchor', 'middle')
        .attr('transform', 'translate(' + labelX + ',' + (panelH / 2) + ') rotate(-90)');
}

function draw_marginal(row) {
    let g = svg.append('g').attr('transform', 'translate(' + rightX + ',' + (firstTop + row * rowStep) + ')');
    g.append('rect').attr('width', panelW).attr('height', panelH).attr('fill', '#fff');

    let x = d3.scaleLinear().domain(histLimits[row]).range([0, panelW]);
    let y = d3.scaleLinear().domain([0, 1.05]).range([panelH, 0]);
    let shape = d3.area()
        .x(function (d) { return x(d[0]); })
        .y0(panelH)
        .y1(function (d) { return y(d[1]); })
        .curve(d3.curveMonotoneX);
    let rows = densX[row].map(function (v, i) { return [v, densY[row][i]]; });

    let body = g.append('g').attr('clip-path', 'url(#panel-clip)');
    body.append('path').attr('d', shape(rows))
        .attr('fill', '#00f').attr('fill-opacity', 0.6)
        .attr('stroke', '#00f').attr('stroke-opacity', 0.35).attr('stroke-width', 1.4);
    body.selectAll('line').data(quantiles[row]).enter().append('line')
        .attr('x1', function (d) { return x(d); })
        .attr('x2', function (d) { return x(d); })
        .attr('y1', panelH).attr('y2', 0)
        .attr('stroke', '#00f').attr('stroke-width', 2.8)
        .attr('stroke-dasharray', '13,4.5');

    let xAxis = g.append('g').attr('transform', 'translate(0,' + panelH + ')')
        .call(d3.axisBottom(x).tickValues(histTicks[row]).tickFormat(d3.format('.' + histDecimals[row] + 'f')).tickSize(tickLen).tickPadding(tickLen));
    style_axis(xAxis);
    spine(g);

    sub_label(g, row + 1)
        .attr('text-anchor', 'middle')
        .attr('x', panelW / 2).attr('y', panelH + 40.7);
}

for (let row = 0; row < yLimits.length; row++) {
    draw_trace(row);
    draw_marginal(row);
}

// scale offsets of the last row
let lastTop = firstTop + 12 * rowStep;
svg.append('text').attr('font-size', fontPx).attr('x', leftX + 1).attr('y', lastTop - 5).text('1e11');
svg.append('text').attr('font-size', fontPx).attr('text-anchor', 'end')
    .attr('x', rightX + panelW - 1).attr('y', lastTop + panelH + 39).text('1e10');
</script>
</body>
</html>
